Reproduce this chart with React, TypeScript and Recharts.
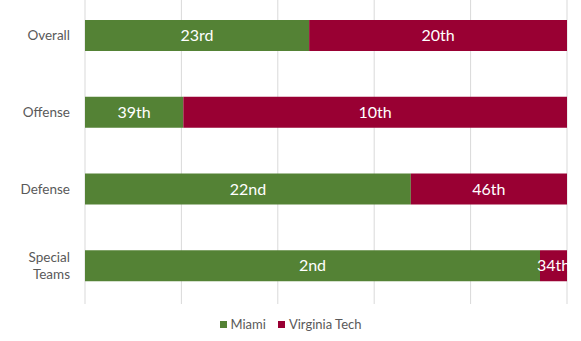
import { BarChart, Bar, XAxis, YAxis, CartesianGrid, Legend, LabelList } from 'recharts'

// ── Data ──────────────────────────────────────────────────────────────────────

const units = ['Overall', 'Offense', 'Defense', 'Special Teams']
const miamiShare = [46.5, 20.4, 67.6, 94.4]
const vtShare = [53.5, 79.6, 32.4, 5.6]
const miamiRank = ['23rd', '39th', '22nd', '2nd']
const vtRank = ['20th', '10th', '46th', '34th']
const gridTicks = [0, 20, 40, 60, 80, 100]

const MIAMI = '#548235'
const VT = '#990033'
const FONT = 'Lato, "Open Sans", sans-serif'

const data = units.map((unit, i) => ({
  unit,
  miami: miamiShare[i],
  vt: vtShare[i],
  miamiLabel: miamiRank[i],
  vtLabel: vtRank[i],
}))

// ── Ticks / legend ────────────────────────────────────────────────────────────

function UnitTick({ x, y, payload }: any) {
  const label: string = payload.value
  const lines = label.length > 10 ? label.split(' ') : [label]
  const mid = (lines.length - 1) / 2
  return (
    <text
      x={x - 9}
      y={y}
      textAnchor="end"
      fill="#595959"
      style={{ fontSize: 13.5, fontFamily: FONT }}
    >
      {lines.map((line, i) => (
        <tspan key={i} x={x - 9} y={y + 5 + (i - mid) * 17}>
          {line}
        </tspan>
      ))}
    </text>
  )
}

function LegendContent() {
  const items = [
    { name: 'Miami', color: MIAMI },
    { name: 'Virginia Tech', color: VT },
  ]
  return (
    <div style={{ display: 'flex', justifyContent: 'center', gap: 12, fontFamily: FONT, fontSize: 13, color: '#595959' }}>
      {items.map((it) => (
        <span key={it.name} style={{ display: 'flex', alignItems: 'center', gap: 4 }}>
          <span style={{ width: 7, height: 7, background: it.color, display: 'inline-block' }} />
          {it.name}
        </span>
      ))}
    </div>
  )
}

// ── App ───────────────────────────────────────────────────────────────────────

export default function App() {
  return (
    <div style={{ position: 'absolute', left: 0, top: 0, width: 581, height: 341, background: '#fff' }}>
      <BarChart
        width={581}
        height={341}
        data={data}
        layout="vertical"
        barCategoryGap={0}
        margin={{ top: -3, right: 14, bottom: 21, left: 0 }}
      >
        <CartesianGrid vertical horizontal={false} stroke="#d9d9d9" />
        <XAxis type="number" domain={[0, 100]} ticks={gridTicks} hide />
        <YAxis
          type="category"
          dataKey="unit"
          width={85}
          axisLine={false}
          tickLine={false}
          tick={<UnitTick />}
          tickMargin={0}
        />
        <Legend
          content={<LegendContent />}
          wrapperStyle={{ position: 'absolute', top: 316, left: 0, width: 581 }}
        />
        <Bar dataKey="miami" name="Miami" stackId="a" fill={MIAMI} barSize={31} isAnimationActive={false}>
          <LabelList dataKey="miamiLabel" position="center" fill="#fff" style={{ fontSize: 16, fontFamily: FONT }} />
        </Bar>
        <Bar dataKey="vt" name="Virginia Tech" stackId="a" fill={VT} barSize={31} isAnimationActive={false}>
          <LabelList dataKey="vtLabel" position="center" fill="#fff" style={{ fontSize: 16, fontFamily: FONT }} />
        </Bar>
      </BarChart>
    </div>
  )
}
